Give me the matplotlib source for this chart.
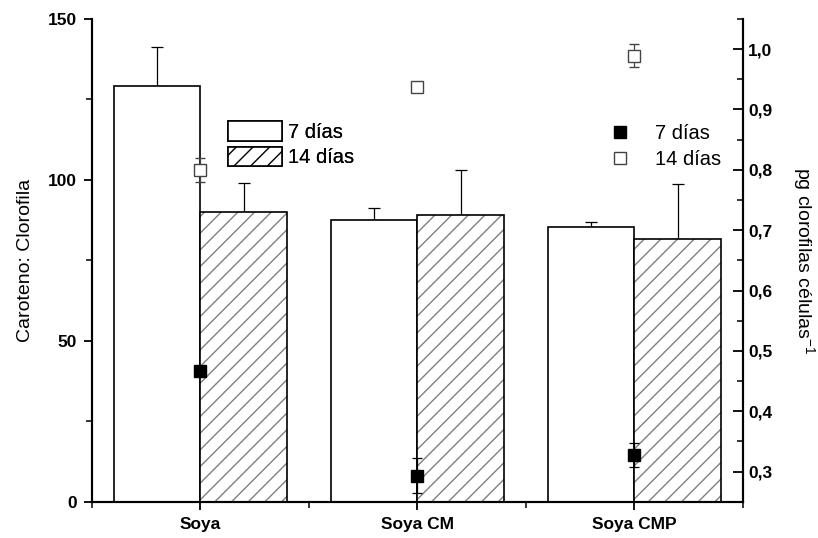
import matplotlib.pyplot as plt
from matplotlib.patches import Patch
from matplotlib.lines import Line2D
from matplotlib.ticker import MultipleLocator, FuncFormatter

plt.rcParams['font.family'] = ['Liberation Sans', 'DejaVu Sans']
plt.rcParams['mathtext.fontset'] = 'custom'
plt.rcParams['mathtext.rm'] = 'Liberation Sans'

# ----- DATA -----
categories = ["Soya", "Soya CM", "Soya CMP"]
ratio_7 = [129.3, 87.5, 85.5]        # Caroteno: Clorofila, 7 dias
ratio_7_err = [12.0, 3.8, 1.4]
ratio_14 = [90.1, 89.2, 81.7]        # Caroteno: Clorofila, 14 dias
ratio_14_err = [8.8, 14.0, 17.0]
chl_7 = [0.466, 0.293, 0.328]        # pg clorofilas celulas-1, 7 dias
chl_7_err = [0.0, 0.029, 0.02]
chl_14 = [0.800, 0.937, 0.989]       # pg clorofilas celulas-1, 14 dias
chl_14_err = [0.02, 0.0, 0.019]

x = list(range(1, len(categories) + 1))
w = 0.4

fig = plt.figure(figsize=(8.18, 5.38), dpi=100)
ax = fig.add_axes([0.1125, 0.0675, 0.7955, 0.8972])
ax2 = ax.twinx()

# bars: 7 dias to the left of the tick, 14 dias to the right
ax.bar(x, ratio_7, width=-w, align='edge', facecolor='white',
       edgecolor='black', linewidth=1.2, zorder=2)
ax.bar(x, ratio_14, width=w, align='edge', facecolor='white',
       edgecolor='#808080', hatch='//', linewidth=0, zorder=2)
ax.bar(x, ratio_14, width=w, align='edge', facecolor='none',
       edgecolor='black', linewidth=1.2, zorder=3)

x7 = [xi - w / 2 for xi in x]
x14 = [xi + w / 2 for xi in x]
ax.errorbar(x7, ratio_7, yerr=[[0] * 3, ratio_7_err], fmt='none',
            ecolor='black', elinewidth=0.9, capsize=4, capthick=0.9, zorder=1)
ax.errorbar(x14, ratio_14, yerr=[[0] * 3, ratio_14_err], fmt='none',
            ecolor='black', elinewidth=0.9, capsize=4, capthick=0.9, zorder=1)

# squares on the right axis
ax2.errorbar(x, chl_7, yerr=chl_7_err, fmt='s', color='black', ms=8.5,
             mfc='black', mec='black', elinewidth=0.9, capsize=3.5,
             capthick=0.9, zorder=5)
ax2.errorbar(x, chl_14, yerr=chl_14_err, fmt='s', color='#444444', ms=8,
             mfc='white', mec='#444444', mew=1.0, elinewidth=0.9,
             capsize=3.5, capthick=0.9, zorder=5)

# axes limits and ticks
ax.set_xlim(0.5, 3.5)
ax.set_ylim(0, 150)
ax2.set_ylim(0.25, 1.05)
ax.set_xticks(x)
ax.set_xticklabels(categories, fontsize=12.5, fontweight='bold')
ax.xaxis.set_minor_locator(MultipleLocator(0.5))
ax.yaxis.set_major_locator(MultipleLocator(50))
ax.yaxis.set_minor_locator(MultipleLocator(25))
ax2.set_yticks([0.3, 0.4, 0.5, 0.6, 0.7, 0.8, 0.9, 1.0])
ax2.yaxis.set_minor_locator(MultipleLocator(0.05))
ax2.yaxis.set_major_formatter(FuncFormatter(lambda v, p: f"{v:.1f}".replace('.', ',')))

for a in (ax, ax2):
    a.spines['top'].set_visible(False)
    for s in a.spines.values():
        s.set_linewidth(1.5)
ax.tick_params(which='major', length=6, width=1.3, direction='out', pad=5)
ax.tick_params(which='minor', length=4, width=1.1, direction='out')
ax2.tick_params(which='major', length=7, width=1.3, direction='in', pad=4)
ax2.tick_params(which='minor', length=4, width=1.1, direction='in')
for lab in ax.get_yticklabels() + ax2.get_yticklabels():
    lab.set_fontweight('bold')
    lab.set_fontsize(12.5)

ax.set_ylabel("Caroteno: Clorofila", fontsize=14, labelpad=10)
ax2.set_ylabel("pg clorofilas células$^{-1}$", fontsize=14, rotation=270,
               labelpad=32)

# legends
bar_handles = [Patch(facecolor='white', edgecolor='black', linewidth=1.2),
               Patch(facecolor='white', edgecolor='#808080', hatch='//',
                     linewidth=1.2)]
leg1 = ax.legend(bar_handles, ["7 días", "14 días"], loc='upper left',
                 bbox_to_anchor=(0.196, 0.805), frameon=False, fontsize=14.5,
                 handlelength=2.7, handleheight=1.1, handletextpad=0.3,
                 labelspacing=0.25, borderaxespad=0)
for h in leg1.legend_handles:
    h.set_edgecolor('black')
ax.add_artist(leg1)

sq_handles = [Line2D([], [], ls='none', marker='s', ms=8, mfc='black', mec='black'),
              Line2D([], [], ls='none', marker='s', ms=8, mfc='white', mec='#444444')]
ax2.legend(sq_handles, ["7 días", "14 días"], loc='upper left',
           bbox_to_anchor=(0.776, 0.80), frameon=False, fontsize=14.5,
           handlelength=1.5, handletextpad=1.0, labelspacing=0.35,
           borderaxespad=0)

fig.savefig("out.png", dpi=100)
